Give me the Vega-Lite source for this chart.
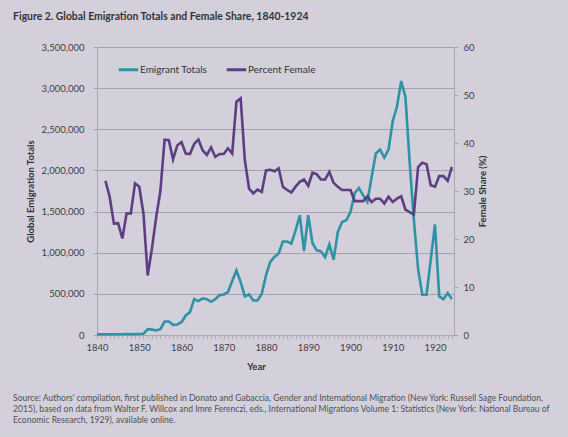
{
  "$schema": "https://vega.github.io/schema/vega-lite/v6.json",
  "background": "#d3d0dc",
  "padding": {"left": 13, "top": 11, "right": 20, "bottom": 20},
  "config": {
    "font": "Lato",
    "view": {"stroke": null},
    "axis": {
      "labelFont": "Lato", "labelFontSize": 9.5, "labelColor": "#404040",
      "titleFont": "Lato", "titleFontSize": 9.5, "titleFontWeight": "bold", "titleColor": "#303030",
      "domainColor": "#a9a7b0", "tickColor": "#a9a7b0", "gridColor": "#a4a2aa", "gridWidth": 1
    }
  },
  "title": {
    "text": "Figure 2. Global Emigration Totals and Female Share, 1840-1924",
    "anchor": "start", "font": "Lato", "fontSize": 10.4, "fontWeight": "bold",
    "color": "#333333", "offset": 20, "dx": 0
  },
  "vconcat": [
    {
      "width": 357,
      "height": 288,
      "title": {
        "text": [
          "Source: Authors' compilation, first published in Donato and Gabaccia, Gender and International Migration (New York: Russell Sage Foundation,",
          "2015), based on data from Walter F. Willcox and Imre Ferenczi, eds., International Migrations Volume 1: Statistics (New York: National Bureau of",
          "Economic Research, 1929), available online."
        ],
        "orient": "bottom", "anchor": "start", "font": "Lato", "fontSize": 8.55,
        "fontWeight": "normal", "color": "#505050", "lineHeight": 11.2, "offset": 23, "dx": -12
      },
      "data": {
        "values": [
          {"year": 1840, "totals": 8000},
          {"year": 1841, "totals": 9000},
          {"year": 1842, "totals": 9000, "female": 32.1},
          {"year": 1843, "totals": 8000, "female": 28.8},
          {"year": 1844, "totals": 9000, "female": 23.2},
          {"year": 1845, "totals": 10000, "female": 23.3},
          {"year": 1846, "totals": 10000, "female": 20.1},
          {"year": 1847, "totals": 11000, "female": 25.3},
          {"year": 1848, "totals": 10000, "female": 25.3},
          {"year": 1849, "totals": 11000, "female": 31.6},
          {"year": 1850, "totals": 12000, "female": 30.9},
          {"year": 1851, "totals": 15000, "female": 25.3},
          {"year": 1852, "totals": 71000, "female": 12.4},
          {"year": 1853, "totals": 65000, "female": 18.0},
          {"year": 1854, "totals": 56000, "female": 24.5},
          {"year": 1855, "totals": 71000, "female": 30.0},
          {"year": 1856, "totals": 164000, "female": 40.7},
          {"year": 1857, "totals": 164000, "female": 40.6},
          {"year": 1858, "totals": 124000, "female": 36.6},
          {"year": 1859, "totals": 128000, "female": 39.5},
          {"year": 1860, "totals": 156000, "female": 40.2},
          {"year": 1861, "totals": 237000, "female": 37.8},
          {"year": 1862, "totals": 278000, "female": 37.7},
          {"year": 1863, "totals": 436000, "female": 39.8},
          {"year": 1864, "totals": 412000, "female": 40.7},
          {"year": 1865, "totals": 444000, "female": 38.5},
          {"year": 1866, "totals": 436000, "female": 37.5},
          {"year": 1867, "totals": 404000, "female": 39.1},
          {"year": 1868, "totals": 436000, "female": 37.1},
          {"year": 1869, "totals": 485000, "female": 37.7},
          {"year": 1870, "totals": 493000, "female": 37.7},
          {"year": 1871, "totals": 522000, "female": 38.9},
          {"year": 1872, "totals": 656000, "female": 37.8},
          {"year": 1873, "totals": 785000, "female": 48.6},
          {"year": 1874, "totals": 643000, "female": 49.3},
          {"year": 1875, "totals": 469000, "female": 36.4},
          {"year": 1876, "totals": 493000, "female": 30.5},
          {"year": 1877, "totals": 420000, "female": 29.5},
          {"year": 1878, "totals": 420000, "female": 30.3},
          {"year": 1879, "totals": 501000, "female": 29.8},
          {"year": 1880, "totals": 725000, "female": 34.3},
          {"year": 1881, "totals": 888000, "female": 34.4},
          {"year": 1882, "totals": 949000, "female": 34.1},
          {"year": 1883, "totals": 990000, "female": 34.7},
          {"year": 1884, "totals": 1136000, "female": 30.9},
          {"year": 1885, "totals": 1136000, "female": 30.2},
          {"year": 1886, "totals": 1110000, "female": 29.7},
          {"year": 1887, "totals": 1272000, "female": 30.9},
          {"year": 1888, "totals": 1455000, "female": 31.9},
          {"year": 1889, "totals": 1020000, "female": 32.4},
          {"year": 1890, "totals": 1455000, "female": 31.1},
          {"year": 1891, "totals": 1118000, "female": 33.8},
          {"year": 1892, "totals": 1029000, "female": 33.5},
          {"year": 1893, "totals": 1017000, "female": 32.4},
          {"year": 1894, "totals": 947000, "female": 32.4},
          {"year": 1895, "totals": 1102000, "female": 34.0},
          {"year": 1896, "totals": 915000, "female": 31.7},
          {"year": 1897, "totals": 1252000, "female": 30.9},
          {"year": 1898, "totals": 1373000, "female": 30.2},
          {"year": 1899, "totals": 1394000, "female": 30.2},
          {"year": 1900, "totals": 1495000, "female": 30.2},
          {"year": 1901, "totals": 1726000, "female": 27.9},
          {"year": 1902, "totals": 1787000, "female": 27.9},
          {"year": 1903, "totals": 1698000, "female": 27.9},
          {"year": 1904, "totals": 1617000, "female": 28.9},
          {"year": 1905, "totals": 1921000, "female": 27.7},
          {"year": 1906, "totals": 2206000, "female": 28.4},
          {"year": 1907, "totals": 2254000, "female": 28.4},
          {"year": 1908, "totals": 2157000, "female": 27.4},
          {"year": 1909, "totals": 2254000, "female": 28.8},
          {"year": 1910, "totals": 2599000, "female": 27.7},
          {"year": 1911, "totals": 2773000, "female": 28.4},
          {"year": 1912, "totals": 3086000, "female": 28.9},
          {"year": 1913, "totals": 2895000, "female": 26.1},
          {"year": 1914, "totals": 2100000, "female": 25.6},
          {"year": 1915, "totals": 1400000, "female": 25.1},
          {"year": 1916, "totals": 800000, "female": 35.0},
          {"year": 1917, "totals": 490000, "female": 35.9},
          {"year": 1918, "totals": 490000, "female": 35.6},
          {"year": 1919, "totals": 919000, "female": 31.2},
          {"year": 1920, "totals": 1343000, "female": 30.9},
          {"year": 1921, "totals": 469000, "female": 33.1},
          {"year": 1922, "totals": 436000, "female": 33.1},
          {"year": 1923, "totals": 509000, "female": 32.1},
          {"year": 1924, "totals": 436000, "female": 35.0}
        ]
      },
      "encoding": {
        "x": {
          "field": "year", "type": "quantitative",
          "scale": {"domain": [1840, 1924.5], "nice": false, "zero": false},
          "axis": {
            "title": "Year", "grid": false, "tickSize": 3, "labelPadding": 4,
            "titlePadding": 10, "titleX": 159, "labelOverlap": false, "labelFlush": false, "labelBound": false,
            "values": [1840,1841,1842,1843,1844,1845,1846,1847,1848,1849,1850,1851,1852,1853,1854,1855,1856,1857,1858,1859,1860,1861,1862,1863,1864,1865,1866,1867,1868,1869,1870,1871,1872,1873,1874,1875,1876,1877,1878,1879,1880,1881,1882,1883,1884,1885,1886,1887,1888,1889,1890,1891,1892,1893,1894,1895,1896,1897,1898,1899,1900,1901,1902,1903,1904,1905,1906,1907,1908,1909,1910,1911,1912,1913,1914,1915,1916,1917,1918,1919,1920,1921,1922,1923,1924],
            "labelExpr": "datum.value % 10 === 0 ? '' + datum.value : ''"
          }
        }
      },
      "layer": [
        {
          "mark": {"type": "line", "strokeWidth": 2.6, "interpolate": "linear"},
          "encoding": {
            "y": {
              "field": "totals", "type": "quantitative",
              "scale": {"domain": [0, 3500000], "nice": false},
              "axis": {
                "title": "Global Emigration Totals", "orient": "left", "format": ",.0f",
                "values": [0, 500000, 1000000, 1500000, 2000000, 2500000, 3000000, 3500000],
                "grid": true, "tickSize": 4, "labelPadding": 9, "titlePadding": 6
              }
            },
            "color": {
              "datum": "Emigrant Totals",
              "scale": {"domain": ["Emigrant Totals", "Percent Female"], "range": ["#2e93a4", "#5d3e83"]},
              "legend": {
                "title": null, "orient": "none", "legendX": 20, "legendY": 11, "direction": "horizontal",
                "symbolType": "stroke", "symbolSize": 380, "symbolStrokeWidth": 3,
                "labelFont": "Lato", "labelFontSize": 10, "labelColor": "#333333",
                "labelOffset": 0, "columnPadding": 12, "padding": 0
              }
            }
          }
        },
        {
          "mark": {"type": "line", "strokeWidth": 2.6, "interpolate": "linear"},
          "encoding": {
            "y": {
              "field": "female", "type": "quantitative",
              "scale": {"domain": [0, 60], "nice": false},
              "axis": {
                "title": "Female Share (%)", "orient": "right", "titleAngle": 270,
                "values": [0, 10, 20, 30, 40, 50, 60],
                "grid": false, "tickSize": 4, "labelPadding": 5, "titlePadding": 13
              }
            },
            "color": {"datum": "Percent Female"}
          }
        }
      ],
      "resolve": {"scale": {"y": "independent"}}
    }
  ]
}
